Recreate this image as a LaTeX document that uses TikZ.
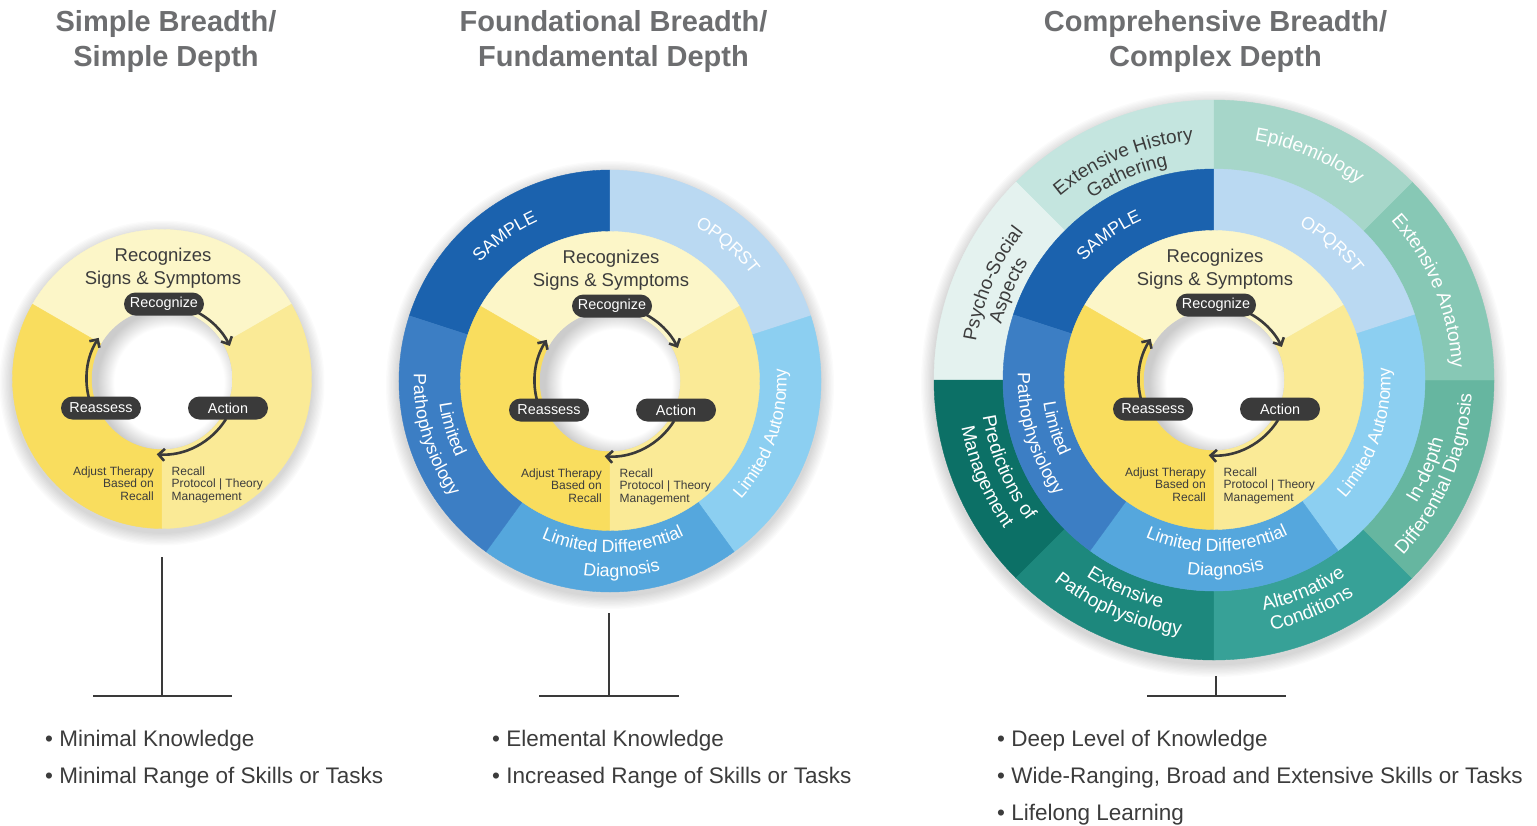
\documentclass[tikz,border=0pt]{standalone}
\usepackage{fontspec}
\setmainfont{Liberation Sans}
\usetikzlibrary{decorations.text,arrows.meta}

\definecolor{ylight}{HTML}{FCF6C8}
\definecolor{ybright}{HTML}{F9DD5E}
\definecolor{ymid}{HTML}{FAEA96}
\definecolor{bSample}{HTML}{1B62AE}
\definecolor{bOpq}{HTML}{BAD9F2}
\definecolor{bAuto}{HTML}{8CCFF1}
\definecolor{bDiff}{HTML}{55A7DD}
\definecolor{bPatho}{HTML}{3C7EC4}
\definecolor{tEpi}{HTML}{A6D6C9}
\definecolor{tAnat}{HTML}{87C8B5}
\definecolor{tIndepth}{HTML}{66B6A0}
\definecolor{tAlt}{HTML}{37A197}
\definecolor{tExtPath}{HTML}{1D887D}
\definecolor{tPred}{HTML}{0C7066}
\definecolor{tHist}{HTML}{C4E5DF}
\definecolor{tPsy}{HTML}{E4F2EF}
\definecolor{txt}{HTML}{3C3C3C}
\definecolor{ttl}{HTML}{6D6E70}
\definecolor{pillc}{HTML}{3A3A3A}

\pgfdeclareradialshading{holeshade}{\pgfpoint{0bp}{0bp}}{color(0bp)=(white); color(19bp)=(white); color(25bp)=(black!20); color(50bp)=(black!20)}

\newcommand\bluefont{\fontsize{17.8}{21}\selectfont}
\newcommand\tealfont{\fontsize{19}{22}\selectfont}

% annular sector: center, r in, r out, angle a, angle b, colour
\newcommand\ringsect[6]{%
  \fill[#6, draw=#6, line width=0.4pt] ([shift={(#4:#3)}]#1) arc[start angle=#4, end angle=#5, radius=#3]
    -- ([shift={(#5:#2)}]#1) arc[start angle=#5, end angle=#4, radius=#2] -- cycle;}

% text on the upper side (letters' tops outward): center, angle, radius, font, colour, text
\newcommand\toptext[6]{%
  \path[decorate, decoration={text along path, text align=center, text color=#5, text={|#4|#6}}]
    ([shift={(#2+90:#3)}]#1) arc[start angle=#2+90, end angle=#2-90, radius=#3];}
% text on the lower side (letters' tops inward)
\newcommand\bottext[6]{%
  \path[decorate, decoration={text along path, text align=center, text color=#5, text={|#4|#6}}]
    ([shift={(#2-90:#3)}]#1) arc[start angle=#2-90, end angle=#2+90, radius=#3];}

\newcommand\softshadow[2]{%
  \foreach \k in {1,...,10} {\fill[black, opacity=0.016] ([yshift=-4pt]#1) circle[radius=#2+\k*1.3pt];}}

\tikzset{
  pillnode/.style={fill=pillc, text=white, rounded corners=11.5pt, minimum width=80pt,
    minimum height=23pt, inner sep=0pt, font=\fontsize{14.4}{16}\selectfont},
  cyc/.style={draw=pillc, line width=2.6pt, -{Straight Barb[length=6pt, width=12pt]}},
  smalltxt/.style={font=\fontsize{12}{12.5}\selectfont, text=txt, inner sep=0pt},
  centertxt/.style={font=\fontsize{18.5}{23}\selectfont, text=txt, align=center, inner sep=0pt},
  titletxt/.style={font=\fontsize{29}{35}\selectfont\bfseries, text=ttl, align=center, inner sep=0pt},
  bullettxt/.style={font=\fontsize{22.5}{37}\selectfont, text=txt, align=left, inner sep=0pt},
  stem/.style={draw=pillc, line width=2pt}
}

% inner yellow ring with the cycle: center, suffix
% (multi-line nodes: anchor=base is the baseline of the LAST line)
\newcommand\corering[2]{%
  \ringsect{#1}{70pt}{149.5pt}{30}{150}{ylight}
  \ringsect{#1}{70pt}{149.5pt}{150}{270}{ybright}
  \ringsect{#1}{70pt}{149.5pt}{270}{390}{ymid}
  \begin{scope}
    \clip (#1) circle[radius=70.2pt];
    \fill[black!20] (#1) circle[radius=71pt];
    \shade[shading=holeshade] ([shift={(7pt,-3pt)}]#1) circle[radius=72pt];
  \end{scope}
  \node[centertxt, anchor=base] (sym#2) at ([shift={(1pt,94.5pt)}]#1) {Recognizes\\Signs \& Symptoms};
  \draw[cyc] ([shift={(63:75.5pt)}]#1) arc[start angle=63, end angle=26, radius=75.5pt];
  \draw[cyc] ([shift={(-32:75.5pt)}]#1) arc[start angle=-32, end angle=-94, radius=75.5pt];
  \draw[cyc] ([shift={(197:75.5pt)}]#1) arc[start angle=197, end angle=147, radius=75.5pt];
  \node[pillnode] (rec#2) at ([shift={(2pt,75pt)}]#1) {Recognize};
  \node[pillnode] (rea#2) at ([shift={(-61pt,-29pt)}]#1) {Reassess};
  \node[pillnode] (act#2) at ([shift={(66pt,-29pt)}]#1) {Action};
  \node[smalltxt, align=right, anchor=base east] (adj#2) at ([shift={(-8pt,-121pt)}]#1) {Adjust Therapy\\Based on\\Recall};
  \node[smalltxt, align=left, anchor=base west] (rcl#2) at ([shift={(9.5pt,-121pt)}]#1) {Recall\\Protocol | Theory\\Management};
}

\newcommand\bluering[1]{%
  \ringsect{#1}{149.5pt}{211pt}{90}{162}{bSample}
  \ringsect{#1}{149.5pt}{211pt}{18}{90}{bOpq}
  \ringsect{#1}{149.5pt}{211pt}{-54}{18}{bAuto}
  \ringsect{#1}{149.5pt}{211pt}{-126}{-54}{bDiff}
  \ringsect{#1}{149.5pt}{211pt}{162}{234}{bPatho}
  \toptext{#1}{126}{175.5pt}{\bluefont}{white}{SAMPLE}
  \toptext{#1}{49}{176.5pt}{\bluefont}{white}{OPQRST}
  \bottext{#1}{-19}{176.5pt}{\bluefont}{white}{Limited Autonomy}
  \bottext{#1}{-89}{171.5pt}{\bluefont}{white}{Limited Differential}
  \bottext{#1}{-86.5}{196pt}{\bluefont}{white}{Diagnosis}
  \bottext{#1}{197}{172pt}{\bluefont}{white}{Limited}
  \bottext{#1}{197}{196pt}{\bluefont}{white}{Pathophysiology}
}

\newcommand\tealring[1]{%
  \ringsect{#1}{211pt}{280pt}{90}{135}{tHist}
  \ringsect{#1}{211pt}{280pt}{135}{180}{tPsy}
  \ringsect{#1}{211pt}{280pt}{180}{225}{tPred}
  \ringsect{#1}{211pt}{280pt}{225}{270}{tExtPath}
  \ringsect{#1}{211pt}{280pt}{270}{315}{tAlt}
  \ringsect{#1}{211pt}{280pt}{315}{360}{tIndepth}
  \ringsect{#1}{211pt}{280pt}{0}{45}{tAnat}
  \ringsect{#1}{211pt}{280pt}{45}{90}{tEpi}
  \toptext{#1}{112.5}{240pt}{\tealfont}{txt}{Extensive History}
  \toptext{#1}{113}{219pt}{\tealfont}{txt}{Gathering}
  \toptext{#1}{67}{243pt}{\tealfont}{white}{Epidemiology}
  \toptext{#1}{22.5}{238pt}{\tealfont}{white}{Extensive Anatomy}
  \toptext{#1}{156.5}{241pt}{\tealfont}{txt}{Psycho-Social}
  \toptext{#1}{156.5}{220pt}{\tealfont}{txt}{Aspects}
  \bottext{#1}{203}{234pt}{\tealfont}{white}{Predictions of}
  \bottext{#1}{203}{257pt}{\tealfont}{white}{Management}
  \bottext{#1}{247}{234pt}{\tealfont}{white}{Extensive}
  \bottext{#1}{247}{257pt}{\tealfont}{white}{Pathophysiology}
  \bottext{#1}{-67}{236pt}{\tealfont}{white}{Alternative}
  \bottext{#1}{-67}{257pt}{\tealfont}{white}{Conditions}
  \bottext{#1}{-23}{237pt}{\tealfont}{white}{In-depth}
  \bottext{#1}{-23}{258pt}{\tealfont}{white}{Differential Diagnosis}
}

\begin{document}
\begin{tikzpicture}[x=1pt,y=1pt]
\useasboundingbox (0,0) rectangle (1537,-825);
\fill[white] (0,0) rectangle (1537,-825);

\coordinate (c1) at (162,-379);
\coordinate (c2) at (610,-381);
\coordinate (c3) at (1214,-380);

% titles (anchor = baseline of the last line)
\node[titletxt, anchor=base] (t1) at (166,-66) {Simple Breadth/\\Simple Depth};
\node[titletxt, anchor=base] (t2) at (613.5,-66) {Foundational Breadth/\\Fundamental Depth};
\node[titletxt, anchor=base] (t3) at (1215.5,-66) {Comprehensive Breadth/\\Complex Depth};

% shadows
\softshadow{c1}{149.5pt}
\softshadow{c2}{211pt}
\softshadow{c3}{280pt}

% circle 1
\corering{c1}{a}

% circle 2
\bluering{c2}
\corering{c2}{b}

% circle 3
\tealring{c3}
\bluering{c3}
\corering{c3}{c}

% stems
\coordinate (s1t) at (162,-557); \coordinate (s1b) at (162,-696);
\coordinate (h1l) at (93,-696);  \coordinate (h1r) at (232,-696);
\coordinate (s2t) at (609,-613); \coordinate (s2b) at (609,-696);
\coordinate (h2l) at (539,-696); \coordinate (h2r) at (679,-696);
\coordinate (s3t) at (1216,-676); \coordinate (s3b) at (1216,-696);
\coordinate (h3l) at (1147,-696); \coordinate (h3r) at (1286,-696);
\draw[stem] (s1t) -- (s1b); \draw[stem] (h1l) -- (h1r);
\draw[stem] (s2t) -- (s2b); \draw[stem] (h2l) -- (h2r);
\draw[stem] (s3t) -- (s3b); \draw[stem] (h3l) -- (h3r);

% bullets (anchor = baseline of the last line)
\node[bullettxt, anchor=base west] (bl1) at (45,-783) {• Minimal Knowledge\\• Minimal Range of Skills or Tasks};
\node[bullettxt, anchor=base west] (bl2) at (492,-783) {• Elemental Knowledge\\• Increased Range of Skills or Tasks};
\node[bullettxt, anchor=base west] (bl3) at (997,-820) {• Deep Level of Knowledge\\• Wide-Ranging, Broad and Extensive Skills or Tasks\\• Lifelong Learning};
\end{tikzpicture}
\end{document}
